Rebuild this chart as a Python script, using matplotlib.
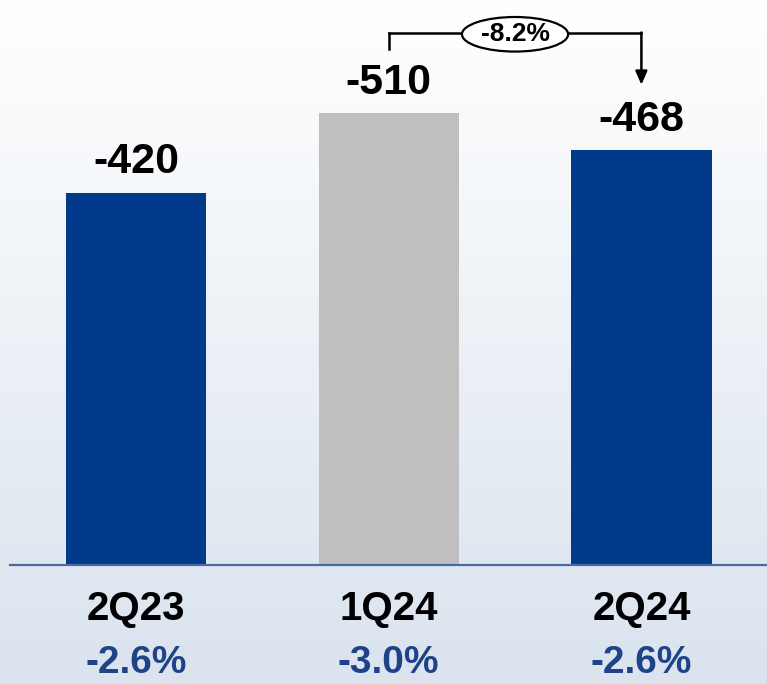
import numpy as np
import matplotlib
matplotlib.use("Agg")
import matplotlib.pyplot as plt
from matplotlib.colors import LinearSegmentedColormap
from matplotlib.patches import Ellipse

# datos
categorias = ["2Q23", "1Q24", "2Q24"]
valores = [-420, -510, -468]
porcentajes = ["-2.6%", "-3.0%", "-2.6%"]
variacion = "-8.2%"

colores = ["#023a8b", "#bfbfbf", "#023a8b"]
azul_pct = "#1e4389"

plt.rcParams['font.family'] = ['Liberation Sans', 'DejaVu Sans']

fig = plt.figure(figsize=(7.67, 6.84), dpi=100)
ax = fig.add_axes([0, 0, 1, 1])

x = np.arange(len(categorias))
alturas = np.abs(valores)

xlim = (-0.538, 2.497)
ylim = (-134.3, 637.7)

# fondo degradado
cmap = LinearSegmentedColormap.from_list("fondo", ["#dae3ee", "#ffffff"])
grad = np.linspace(0, 1, 256).reshape(-1, 1)
ax.imshow(grad, extent=[xlim[0], xlim[1], ylim[0], ylim[1]], origin="lower",
          aspect="auto", cmap=cmap, zorder=0)

ax.bar(x, alturas, width=0.555, color=colores, zorder=2)

# linea base
ax.plot([xlim[0] + 0.04, xlim[1]], [0, 0], color="#4a6aa6", linewidth=1.6, zorder=3)

for xi, v, h in zip(x, valores, alturas):
    ax.text(xi, h + 12, str(v), ha="center", va="bottom", fontsize=31,
            fontweight="bold", color="black", zorder=4)

for xi, c, p in zip(x, categorias, porcentajes):
    ax.text(xi, -50, c, ha="center", va="center", fontsize=29,
            fontweight="bold", color="black")
    ax.text(xi, -111, p, ha="center", va="center", fontsize=28,
            fontweight="bold", color=azul_pct)

# flecha de variacion
y_top = 600
ax.plot([x[1], x[1]], [582, y_top], color="black", linewidth=1.8, zorder=4)
ax.plot([x[1], x[2]], [y_top, y_top], color="black", linewidth=1.8, zorder=4)
ax.annotate("", xy=(x[2], 542), xytext=(x[2], y_top + 1),
            arrowprops=dict(arrowstyle="-|>,head_length=0.8,head_width=0.35",
                            color="black", linewidth=1.8, shrinkA=0, shrinkB=0),
            zorder=4)
xm = (x[1] + x[2]) / 2
ax.add_patch(Ellipse((xm, 599), width=0.42, height=39, facecolor="white",
                     edgecolor="black", linewidth=1.6, zorder=5))
ax.text(xm, 599, variacion, ha="center", va="center", fontsize=19,
        fontweight="bold", zorder=6)

ax.set_xlim(xlim)
ax.set_ylim(ylim)
ax.axis("off")

fig.savefig("out.png", dpi=100)
